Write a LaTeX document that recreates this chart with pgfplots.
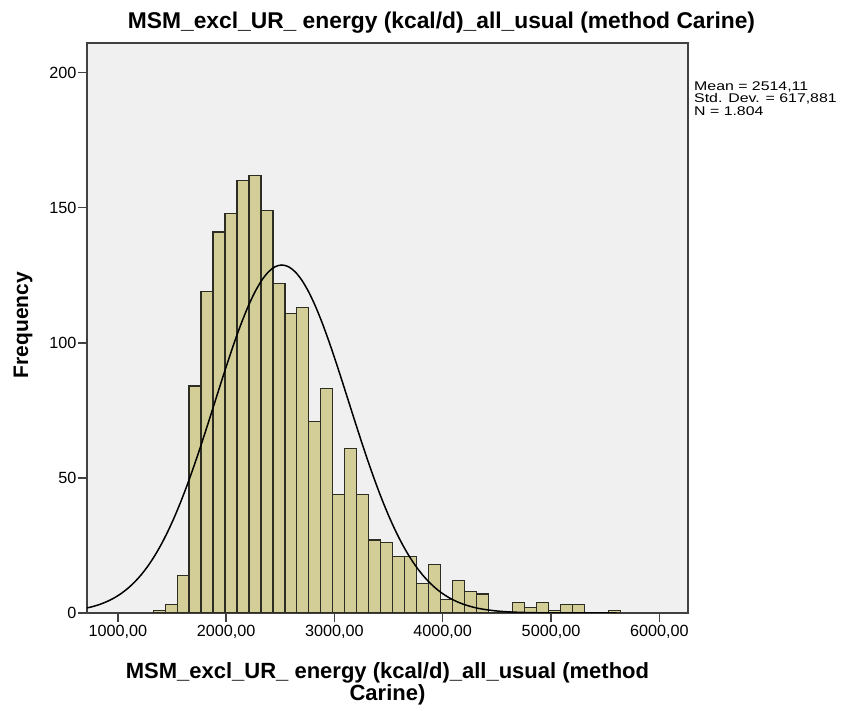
\documentclass[border=0pt]{standalone}
\usepackage{pgfplots}
\pgfplotsset{compat=1.18}
\usepackage{fontspec}
\setmainfont{Liberation Sans}
\newfontfamily\legfont[FakeStretch=1.26]{Liberation Sans}
\definecolor{bggray}{RGB}{240,240,240}
\definecolor{barfill}{RGB}{211,206,151}
\definecolor{baredge}{RGB}{45,45,35}
\definecolor{framegray}{RGB}{65,65,65}

\begin{document}
\begin{tikzpicture}
\useasboundingbox (0pt,0pt) rectangle (843pt,711pt);
\begin{axis}[
    at={(87pt,98pt)}, anchor=south west,
    scale only axis,
    width=601pt, height=570pt,
    xmin=715, xmax=6265,
    ymin=0, ymax=211,
    axis background/.style={fill=bggray},
    axis line style={framegray, line width=1.4pt},
    every tick/.style={framegray, line width=1.4pt},
    tick align=outside,
    major tick length=9pt,
    xtick={1000,2000,3000,4000,5000,6000},
    xticklabels={{1000,00},{2000,00},{3000,00},{4000,00},{5000,00},{6000,00}},
    ytick={0,50,100,150,200},
    xtick pos=bottom, ytick pos=left,
    /pgf/number format/assume math mode=true,
    tick label style={font=\fontsize{16.2}{18}\selectfont},
    xticklabel style={inner sep=3pt},
    yticklabel style={inner sep=1.5pt},
    clip=true,
]
% histogram, bin width about 110.6
\addplot[ybar interval, fill=barfill, draw=baredge, line width=1.2pt] coordinates {
    (1326.0,1) (1436.6,3) (1547.2,14) (1657.8,84) (1768.4,119)
    (1879.0,141) (1989.6,148) (2100.2,160) (2210.8,162) (2321.4,149)
    (2432.0,122) (2542.6,111) (2653.2,113) (2763.8,71) (2874.4,83)
    (2985.0,44) (3095.6,61) (3206.2,44) (3316.8,27) (3427.4,26)
    (3538.0,21) (3648.6,21) (3759.2,11) (3869.8,18) (3980.4,5)
    (4091.0,12) (4201.6,8) (4312.2,7) (4422.8,0) (4533.4,0)
    (4644.0,4) (4754.6,2) (4865.2,4) (4975.8,1) (5086.4,3)
    (5197.0,3) (5307.6,0) (5418.2,0) (5528.8,1) (5639.4,0)
};
% normal curve (mean 2514.11, sd 617.881)
\addplot[black, line width=1.5pt, smooth] coordinates {
    (715,1.86) (784.04,2.56) (845.83,3.37) (907.62,4.39) (969.41,5.66)
    (1031.20,7.23) (1092.98,9.15) (1154.77,11.46) (1216.56,14.20) (1278.35,17.43)
    (1340.14,21.19) (1401.92,25.49) (1463.71,30.37) (1525.50,35.82) (1587.29,41.82)
    (1649.08,48.35) (1710.86,55.34) (1772.65,62.71) (1834.44,70.35) (1896.23,78.14)
    (1958.02,85.92) (2019.81,93.55) (2081.59,100.83) (2143.38,107.60) (2205.17,113.69)
    (2266.96,118.92) (2328.75,123.16) (2390.53,126.27) (2452.32,128.18) (2514.11,128.82)
    (2575.90,128.18) (2637.69,126.27) (2699.47,123.16) (2761.26,118.92) (2823.05,113.69)
    (2884.84,107.60) (2946.63,100.83) (3008.41,93.55) (3070.20,85.92) (3131.99,78.14)
    (3193.78,70.35) (3255.57,62.71) (3317.36,55.34) (3379.14,48.35) (3440.93,41.82)
    (3502.72,35.82) (3564.51,30.37) (3626.30,25.49) (3688.08,21.19) (3749.87,17.43)
    (3811.66,14.20) (3873.45,11.46) (3935.24,9.15) (3997.02,7.23) (4058.81,5.66)
    (4120.60,4.39) (4182.39,3.37) (4244.18,2.56) (4305.96,1.92) (4367.75,1.43)
    (4491.33,0.77) (4614.90,0.40) (4738.48,0.20) (4862.06,0.09) (4985.63,0.04)
    (5294.57,0.01) (5603.52,0)
};
\end{axis}
% titles and labels
\node[anchor=base, font=\fontsize{22.8}{24}\selectfont\bfseries] at (441.5pt,682.7pt)
    {MSM\_excl\_UR\_ energy (kcal/d)\_all\_usual (method Carine)};
\node[anchor=base, font=\fontsize{22}{24}\selectfont\bfseries] at (387.5pt,32pt)
    {MSM\_excl\_UR\_ energy (kcal/d)\_all\_usual (method};
\node[anchor=base, font=\fontsize{22}{24}\selectfont\bfseries] at (387.5pt,10pt)
    {Carine)};
\node[anchor=base, rotate=90, font=\fontsize{21}{23}\selectfont\bfseries] at (28pt,386pt)
    {Frequency};
% statistics box
\node[anchor=base west, inner sep=0pt, font=\legfont\fontsize{12.6}{13}\selectfont] at (694pt,620.3pt) {Mean = 2514,11};
\node[anchor=base west, inner sep=0pt, font=\legfont\fontsize{12.6}{13}\selectfont] at (694pt,608pt) {Std. Dev. = 617,881};
\node[anchor=base west, inner sep=0pt, font=\legfont\fontsize{12.6}{13}\selectfont] at (694pt,595.7pt) {N = 1.804};
\end{tikzpicture}
\end{document}
